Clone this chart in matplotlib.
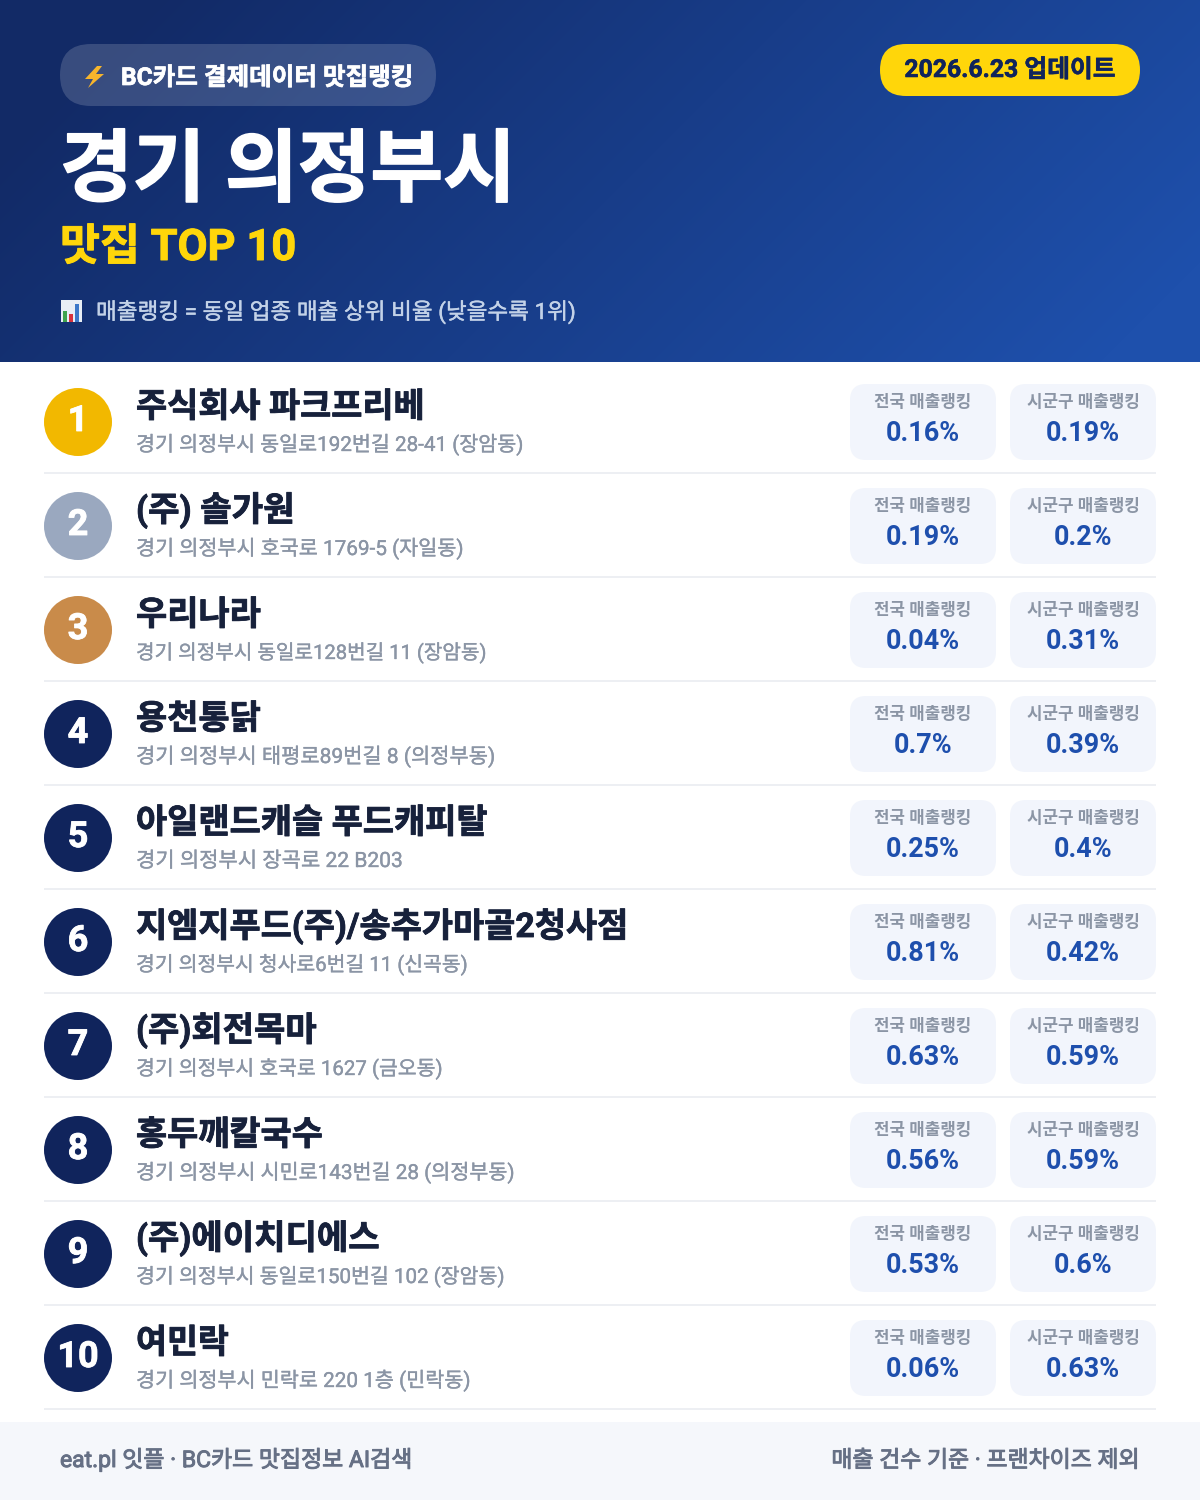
import numpy as np
import matplotlib
matplotlib.use("Agg")
import matplotlib.pyplot as plt
import matplotlib.patheffects as pe
from matplotlib.patches import FancyBboxPatch, Circle, Polygon, Rectangle

plt.rcParams['font.family'] = ['Roboto', 'Noto Sans CJK KR', 'DejaVu Sans']

names = ["주식회사 파크프리베", "(주) 솔가원", "우리나라", "용천통닭", "아일랜드캐슬 푸드캐피탈",
         "지엠지푸드(주)/송추가마골2청사점", "(주)회전목마", "홍두깨칼국수", "(주)에이치디에스", "여민락"]
addresses = ["경기 의정부시 동일로192번길 28-41 (장암동)", "경기 의정부시 호국로 1769-5 (자일동)",
             "경기 의정부시 동일로128번길 11 (장암동)", "경기 의정부시 태평로89번길 8 (의정부동)",
             "경기 의정부시 장곡로 22 B203", "경기 의정부시 청사로6번길 11 (신곡동)",
             "경기 의정부시 호국로 1627 (금오동)", "경기 의정부시 시민로143번길 28 (의정부동)",
             "경기 의정부시 동일로150번길 102 (장암동)", "경기 의정부시 민락로 220 1층 (민락동)"]
national = ["0.16%", "0.19%", "0.04%", "0.7%", "0.25%", "0.81%", "0.63%", "0.56%", "0.53%", "0.06%"]
sigungu = ["0.19%", "0.2%", "0.31%", "0.39%", "0.4%", "0.42%", "0.59%", "0.59%", "0.6%", "0.63%"]
ranks = list(range(1, 11))
rank_colors = ["#F2B800", "#9AA8BF", "#C98B4A"] + ["#10245C"] * 7

fig = plt.figure(figsize=(12, 15), dpi=100, facecolor="white")
ax = fig.add_axes([0, 0, 1, 1])
ax.set_xlim(0, 1200)
ax.set_ylim(1500, 0)
ax.axis("off")

def px(s):
    return s * 72 / 100

def T(x, y, s, size, color, weight="regular", ha="left", target=None, stroke=0):
    t = ax.text(x, y, s, fontsize=px(size), color=color, fontweight=weight, ha=ha, va="baseline", zorder=5)
    if target is not None:
        bb = t.get_window_extent(fig.canvas.get_renderer())
        t.set_fontsize(px(size) * target / bb.width)
    if stroke:
        t.set_path_effects([pe.withStroke(linewidth=stroke, foreground=color)])
    return t

def box(x, y, w, h, r, **kw):
    p = FancyBboxPatch((x + r, y + r), w - 2 * r, h - 2 * r, boxstyle=f"round,pad={r},rounding_size={r}",
                       linewidth=0, **kw)
    ax.add_patch(p)
    return p

# header gradient
H, W = 362, 1200
yy, xx = np.mgrid[0:H, 0:W]
g = np.clip((xx * 1.0 + yy * 1.0 - 150) / (W + H - 250), 0, 1)
c0 = np.array([0x12, 0x2a, 0x66]) / 255
c1 = np.array([0x1e, 0x50, 0xac]) / 255
img = c0[None, None, :] + (c1 - c0)[None, None, :] * g[..., None]
ax.imshow(img, extent=(0, W, H, 0), aspect="auto", zorder=0, interpolation="bilinear")
ax.set_xlim(0, 1200)
ax.set_ylim(1500, 0)

# pill
box(60, 44, 376, 62, 31, facecolor="white", alpha=0.16, zorder=1)
ax.add_patch(Polygon([(97, 66), (85, 79), (93, 79), (88, 88), (104, 74), (96, 74), (102, 66)],
                     closed=True, facecolor="#F7B52C", edgecolor="none", zorder=3))
T(121, 85, "BC카드 결제데이터 맛집랭킹", 26, "white", "bold", target=292, stroke=0.5)
T(60, 195, "경기 의정부시", 88, "white", "bold", target=456, stroke=1.2)
T(60, 260, "맛집 TOP 10", 46, "#FFD60A", "bold", target=236, stroke=0.7)

# chart icon
ax.add_patch(Rectangle((61, 300), 21, 22, facecolor="#E8EEF5", edgecolor="none", zorder=3))
ax.add_patch(Rectangle((63, 311), 4, 11, facecolor="#3FA34D", edgecolor="none", zorder=4))
ax.add_patch(Rectangle((69, 314), 4, 8, facecolor="#D8323C", edgecolor="none", zorder=4))
ax.add_patch(Rectangle((75, 304), 4, 18, facecolor="#3C78C8", edgecolor="none", zorder=4))
T(96, 319, "매출랭킹 = 동일 업종 매출 상위 비율 (낮을수록 1위)", 24, "#C3D2E8", "regular", target=481, stroke=0.3)

# yellow badge
box(880, 44, 260, 52, 26, facecolor="#FFD60A", zorder=1)
T(1010, 77, "2026.6.23 업데이트", 26, "#10245C", "bold", ha="center", target=211, stroke=0.4)

# rows
name_w = [289, 159, 125, 125, 352, 493, 181, 187, 244, 93]
addr_w = [388, 328, 351, 360, 267, 332, 307, 379, 369, 335]
for i in range(10):
    top = 362 + 104 * i
    ax.add_patch(Circle((78, top + 60), 34, facecolor=rank_colors[i], edgecolor="none", zorder=2))
    T(78, top + 69, str(ranks[i]), 36, "white", "bold", ha="center", stroke=0.6)
    T(136, top + 55, names[i], 38, "#17213B", "bold", target=name_w[i], stroke=0.6)
    T(136, top + 89, addresses[i], 22, "#8B95A5", "regular", target=addr_w[i], stroke=0.25)
    box(850, top + 22, 146, 76, 16, facecolor="#F2F5FC", zorder=1)
    box(1010, top + 22, 146, 76, 16, facecolor="#F2F5FC", zorder=1)
    T(923, top + 45, "전국 매출랭킹", 17, "#8B95A5", "bold", ha="center", target=97)
    T(1083, top + 45, "시군구 매출랭킹", 17, "#8B95A5", "bold", ha="center", target=113)
    T(923, top + 79, national[i], 27, "#1E4FAD", "bold", ha="center")
    T(1083, top + 79, sigungu[i], 27, "#1E4FAD", "bold", ha="center")
    ax.add_patch(Rectangle((44, top + 110), 1112, 2, facecolor="#EDEFF3", edgecolor="none", zorder=1))

# footer
ax.add_patch(Rectangle((0, 1422), 1200, 78, facecolor="#F5F7FB", edgecolor="none", zorder=1))
T(60, 1467, "eat.pl 잇플 · BC카드 맛집정보 AI검색", 24, "#667085", "regular", target=353, stroke=0.7)
T(1140, 1467, "매출 건수 기준 · 프랜차이즈 제외", 24, "#667085", "regular", ha="right", target=309, stroke=0.7)

fig.savefig("out.png", dpi=100, facecolor="white")
